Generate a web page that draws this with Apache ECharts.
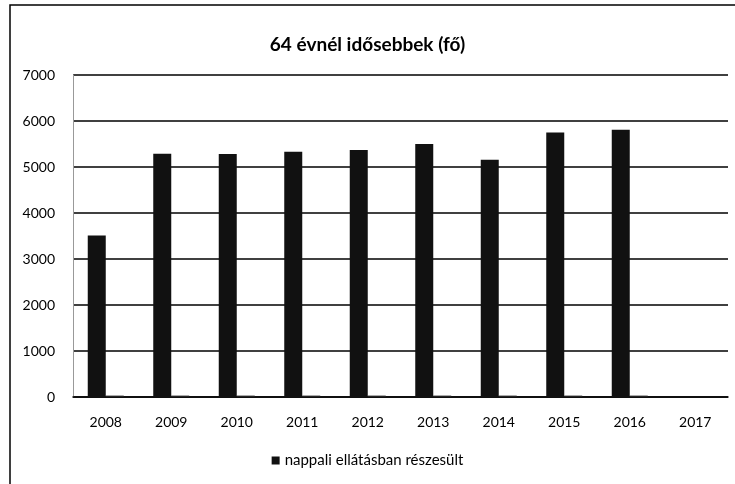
<!DOCTYPE html>
<html>
<head>
<meta charset="utf-8">
<script src="https://cdn.jsdelivr.net/npm/echarts@6/dist/echarts.min.js"></script>
<style>
  html, body { margin: 0; padding: 0; background: #fff; }
  #chart { width: 735px; height: 484px; }
</style>
</head>
<body>
<div id="chart"></div>
<script>
// adatok
const years = ['2008', '2009', '2010', '2011', '2012', '2013', '2014', '2015', '2016', '2017'];
const nappali = [3510, 5290, 5280, 5330, 5370, 5500, 5160, 5750, 5810, 0];
const masik = [30, 30, 30, 30, 30, 30, 30, 30, 30, 0];
const yTicks = [0, 1000, 2000, 3000, 4000, 5000, 6000, 7000];

const chart = echarts.init(document.getElementById('chart'));
const font = 'Lato, "Open Sans", sans-serif';

chart.setOption({
  animation: false,
  title: {
    text: '64 évnél idősebbek (fő)',
    left: 'center',
    top: 30,
    textStyle: { fontFamily: font, fontSize: 19, fontWeight: 'bold', color: '#000' }
  },
  graphic: [
    { type: 'rect', shape: { x: 10, y: 5, width: 760, height: 520 },
      style: { fill: 'none', stroke: '#000', lineWidth: 1.5 } }
  ],
  legend: {
    data: ['nappali ellátásban részesült'],
    bottom: 11,
    left: 'center',
    icon: 'rect',
    itemWidth: 8,
    itemHeight: 8,
    itemGap: 4,
    textStyle: { fontFamily: font, fontSize: 15, color: '#000' }
  },
  grid: { left: 73, right: 7, top: 75, bottom: 87 },
  xAxis: {
    type: 'category',
    data: years,
    axisLine: { lineStyle: { color: '#000', width: 1.5 } },
    axisTick: { show: false },
    axisLabel: { fontFamily: font, fontSize: 14, color: '#000', margin: 18 }
  },
  yAxis: {
    type: 'value',
    min: yTicks[0],
    max: yTicks[yTicks.length - 1],
    interval: 1000,
    axisLine: { show: true, lineStyle: { color: '#999', width: 1 } },
    axisTick: { show: false },
    splitLine: { lineStyle: { color: '#000', width: 1.5 } },
    axisLabel: { fontFamily: font, fontSize: 14, color: '#000', margin: 18, formatter: v => String(v) }
  },
  series: [
    {
      name: 'nappali ellátásban részesült',
      type: 'bar',
      data: nappali,
      barWidth: 18,
      barGap: '0%',
      itemStyle: { color: '#111' }
    },
    {
      name: 'egyéb',
      type: 'bar',
      data: masik,
      barWidth: 18,
      itemStyle: { color: '#222' }
    }
  ]
});
</script>
</body>
</html>
